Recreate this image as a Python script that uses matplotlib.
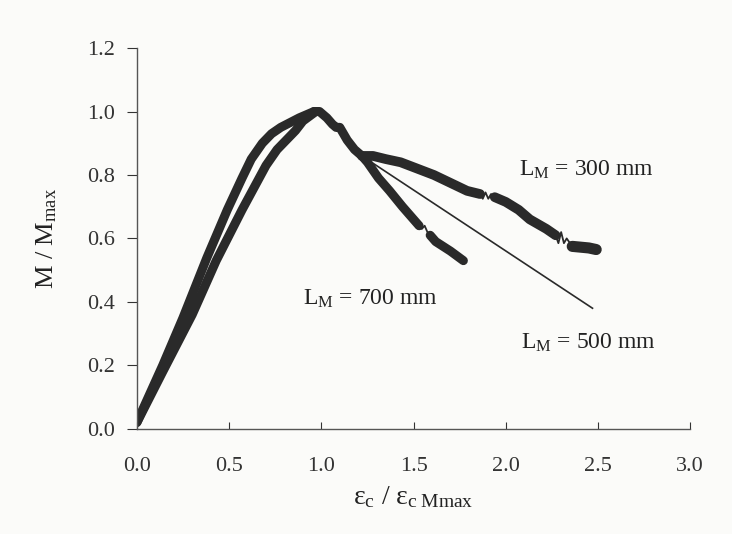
import matplotlib
matplotlib.use("Agg")
import matplotlib.pyplot as plt

# ── Fonts ─────────────────────────────────────────────────
plt.rcParams['font.family'] = ['Liberation Serif', 'DejaVu Serif']
plt.rcParams['mathtext.fontset'] = 'custom'
plt.rcParams['mathtext.rm'] = 'Liberation Serif'
plt.rcParams['mathtext.it'] = 'Liberation Serif:italic'

# ── Data ──────────────────────────────────────────────────
# Rising branches (two visible, L=300 and L=500 overlap)
rise_a_x = [0.00, 0.07, 0.14, 0.25, 0.38, 0.49, 0.57, 0.62, 0.68, 0.73,
            0.78, 0.88, 0.96]
rise_a_y = [0.02, 0.11, 0.20, 0.35, 0.54, 0.69, 0.79, 0.85, 0.90, 0.93,
            0.95, 0.98, 1.00]
rise_b_x = [0.00, 0.14, 0.30, 0.43, 0.57, 0.70, 0.76, 0.81, 0.86, 0.90, 0.97]
rise_b_y = [0.02, 0.18, 0.36, 0.53, 0.69, 0.83, 0.88, 0.91, 0.94, 0.97, 1.00]

# Common part just after the peak
peak_x = [0.96, 0.99, 1.03, 1.06, 1.08, 1.10, 1.14, 1.18, 1.22]
peak_y = [1.00, 1.00, 0.98, 0.96, 0.95, 0.95, 0.91, 0.88, 0.86]

# Softening branches
l700_x = [1.22, 1.25, 1.31, 1.37, 1.44, 1.50, 1.53, 1.545, 1.56, 1.575,
          1.59, 1.62, 1.70, 1.77]
l700_y = [0.86, 0.84, 0.79, 0.75, 0.70, 0.66, 0.64, 0.63, 0.64, 0.62,
          0.61, 0.59, 0.56, 0.53]
l300_x = [1.22, 1.28, 1.35, 1.43, 1.52, 1.61, 1.70, 1.79, 1.86, 1.875,
          1.89, 1.905, 1.92, 1.94, 2.00, 2.07, 2.13, 2.22, 2.27, 2.285,
          2.30, 2.315, 2.33, 2.36, 2.45, 2.49]
l300_y = [0.86, 0.86, 0.85, 0.84, 0.82, 0.80, 0.775, 0.75, 0.74, 0.725,
          0.745, 0.725, 0.74, 0.73, 0.715, 0.69, 0.66, 0.63, 0.61, 0.585,
          0.62, 0.585, 0.60, 0.575, 0.57, 0.565]
l500_x = [1.22, 2.47]
l500_y = [0.86, 0.38]

labels = ['L$_\\mathrm{M}$ = 300 mm', 'L$_\\mathrm{M}$ = 700 mm',
          'L$_\\mathrm{M}$ = 500 mm']
label_x = [2.07, 0.90, 2.08]
label_y = [0.815, 0.41, 0.27]

# ── Figure ────────────────────────────────────────────────
ink = '#2a2a2a'
fig = plt.figure(figsize=(7.32, 5.34), dpi=100, facecolor='#fbfbf9')
ax = fig.add_axes([0.187, 0.197, 0.756, 0.713])
ax.set_facecolor('#fbfbf9')

thick = dict(color=ink, lw=6.5, solid_capstyle='round', solid_joinstyle='round')
thin = dict(color=ink, lw=1.3)
ax.plot(rise_a_x, rise_a_y, **thick)
ax.plot(rise_b_x, rise_b_y, **thick)
ax.plot(peak_x, peak_y, **thick)

# thick stretches joined by thin wiggles, as in the scan
ax.plot(l700_x[:7], l700_y[:7], **thick)
ax.plot(l700_x[6:11], l700_y[6:11], **thin)
ax.plot(l700_x[10:], l700_y[10:], **thick)

ax.plot(l300_x[:9], l300_y[:9], color=ink, lw=7, solid_capstyle='round')
ax.plot(l300_x[8:14], l300_y[8:14], **thin)
ax.plot(l300_x[13:19], l300_y[13:19], color=ink, lw=7, solid_capstyle='round')
ax.plot(l300_x[18:24], l300_y[18:24], **thin)
ax.plot(l300_x[23:], l300_y[23:], color=ink, lw=8, solid_capstyle='round')

ax.plot(l500_x, l500_y, color=ink, lw=1.2)

for txt, x, y in zip(labels, label_x, label_y):
    ax.text(x, y, txt, fontsize=17, color='#222222', va='center', ha='left')

ax.set_xlim(0, 3.0)
ax.set_ylim(0, 1.2)
ax.set_xticks([0, 0.5, 1.0, 1.5, 2.0, 2.5, 3.0])
ax.set_yticks([0, 0.2, 0.4, 0.6, 0.8, 1.0, 1.2])
ax.xaxis.set_major_formatter(plt.FuncFormatter(lambda v, p: f"{v:.1f}"))
ax.yaxis.set_major_formatter(plt.FuncFormatter(lambda v, p: f"{v:.1f}"))
ax.tick_params(axis='x', direction='in', length=5, pad=20, labelsize=16,
               colors='#333333')
ax.tick_params(axis='y', direction='out', length=7, pad=9, labelsize=16,
               colors='#333333')

for s in ['top', 'right']:
    ax.spines[s].set_visible(False)
for s in ['left', 'bottom']:
    ax.spines[s].set_color('#555555')
    ax.spines[s].set_linewidth(1.0)

ax.set_xlabel('ε$_\\mathrm{c}$ / ε$_\\mathrm{c\\ Mmax}$', fontsize=20,
              color='#222222', labelpad=6)
ax.set_ylabel('M / M$_\\mathrm{max}$', fontsize=19, color='#222222',
              labelpad=20)

fig.savefig('out.png', dpi=100, facecolor=fig.get_facecolor())
